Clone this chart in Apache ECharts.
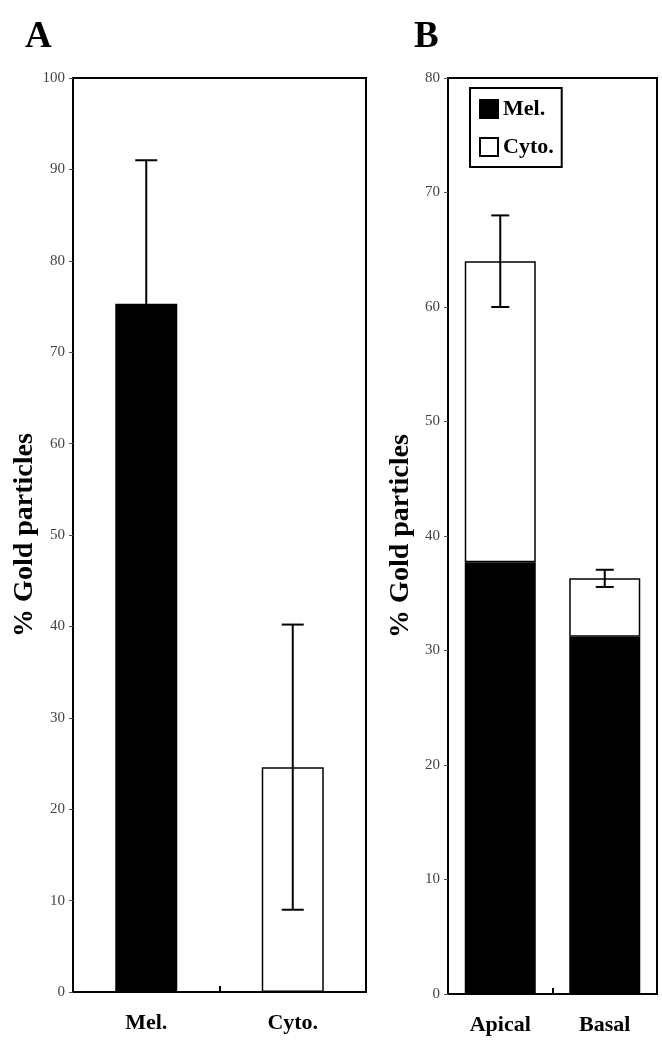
<!DOCTYPE html>
<html>
<head>
<meta charset="utf-8">
<script src="https://cdn.jsdelivr.net/npm/echarts@6/dist/echarts.min.js"></script>
<style>
html,body{margin:0;padding:0;background:#fff;}
#chart{width:662px;height:1050px;}
</style>
</head>
<body>
<div id="chart"></div>
<script>
// Panel A
const catsA = ['Mel.', 'Cyto.'];
const valuesA = [75.3, 24.6];
const errA = [15.7, 15.6];
const ticksA = { min: 0, max: 100, interval: 10 };

// Panel B
const catsB = ['Apical', 'Basal'];
const melB = [37.7, 31.2];
const cytoB = [26.3, 5.1];
const errB = [4.0, 0.75];
const ticksB = { min: 0, max: 80, interval: 10 };

const serif = '"Liberation Serif", "DejaVu Serif", serif';
const chart = echarts.init(document.getElementById('chart'));

const totalsB = melB.map((v, i) => v + cytoB[i]);

function errRender(capHalf) {
  return function (params, api) {
    const x = api.value(0);
    const m = api.value(1);
    const e = api.value(2);
    const top = api.coord([x, m + e]);
    const bot = api.coord([x, m - e]);
    const st = { stroke: '#000', lineWidth: 2 };
    return {
      type: 'group',
      children: [
        { type: 'line', shape: { x1: top[0], y1: top[1], x2: bot[0], y2: bot[1] }, style: st },
        { type: 'line', shape: { x1: top[0] - capHalf, y1: top[1], x2: top[0] + capHalf, y2: top[1] }, style: st },
        { type: 'line', shape: { x1: bot[0] - capHalf, y1: bot[1], x2: bot[0] + capHalf, y2: bot[1] }, style: st }
      ]
    };
  };
}

const yAxisCommon = {
  type: 'value',
  name: '% Gold particles',
  nameLocation: 'middle',
  nameRotate: 90,
  nameGap: 33,
  nameTextStyle: { fontFamily: serif, fontWeight: 'bold', fontSize: 28, color: '#000' },
  axisLine: { show: true, lineStyle: { color: '#000', width: 2 } },
  axisTick: { show: true, length: 4, lineStyle: { color: '#555', width: 1 } },
  axisLabel: { fontFamily: serif, fontSize: 15, color: '#444', margin: 8 },
  splitLine: { show: false }
};

const xAxisCommon = {
  type: 'category',
  axisLine: { show: true, lineStyle: { color: '#000', width: 2 } },
  axisTick: { show: true, inside: true, length: 6, lineStyle: { color: '#000', width: 2 } },
  axisLabel: { fontFamily: serif, fontWeight: 'bold', fontSize: 22, color: '#000', margin: 20 }
};

chart.setOption({
  animation: false,
  backgroundColor: '#fff',
  title: [
    { text: 'A', left: 20, top: 14, textStyle: { fontFamily: serif, fontWeight: 'bold', fontSize: 37, color: '#000' } },
    { text: 'B', left: 409, top: 14, textStyle: { fontFamily: serif, fontWeight: 'bold', fontSize: 37, color: '#000' } }
  ],
  legend: {
    data: ['Mel.', 'Cyto.'],
    orient: 'vertical',
    left: 470,
    top: 88,
    padding: [10, 8, 9, 9],
    itemGap: 16,
    itemWidth: 18,
    itemHeight: 18,
    backgroundColor: '#fff',
    borderColor: '#000',
    borderWidth: 2,
    icon: 'rect',
    textStyle: { fontFamily: serif, fontWeight: 'bold', fontSize: 22, color: '#000' }
  },
  grid: [
    { left: 73, top: 78, width: 293, height: 914, show: true, borderColor: '#000', borderWidth: 2, containLabel: false },
    { left: 448, top: 78, width: 209, height: 916, show: true, borderColor: '#000', borderWidth: 2, containLabel: false }
  ],
  xAxis: [
    Object.assign({}, xAxisCommon, { gridIndex: 0, data: catsA }),
    Object.assign({}, xAxisCommon, { gridIndex: 1, data: catsB })
  ],
  yAxis: [
    Object.assign({}, yAxisCommon, { gridIndex: 0, min: ticksA.min, max: ticksA.max, interval: ticksA.interval }),
    Object.assign({}, yAxisCommon, { gridIndex: 1, min: ticksB.min, max: ticksB.max, interval: ticksB.interval })
  ],
  series: [
    {
      type: 'bar', xAxisIndex: 0, yAxisIndex: 0, barWidth: 62,
      data: valuesA.map((v, i) => ({
        value: v,
        itemStyle: i === 0 ? { color: '#000', borderColor: '#000', borderWidth: 1.5 } : { color: '#fff', borderColor: '#000', borderWidth: 1.5 }
      }))
    },
    {
      type: 'custom', xAxisIndex: 0, yAxisIndex: 0, z: 5,
      renderItem: errRender(11),
      encode: { x: 0, y: 1 },
      data: valuesA.map((v, i) => [i, v, errA[i]])
    },
    {
      name: 'Mel.', type: 'bar', xAxisIndex: 1, yAxisIndex: 1, stack: 'b', barWidth: 71,
      itemStyle: { color: '#000', borderColor: '#000', borderWidth: 1.5 },
      data: melB
    },
    {
      name: 'Cyto.', type: 'bar', xAxisIndex: 1, yAxisIndex: 1, stack: 'b', barWidth: 71,
      itemStyle: { color: '#fff', borderColor: '#000', borderWidth: 1.5 },
      data: cytoB
    },
    {
      type: 'custom', xAxisIndex: 1, yAxisIndex: 1, z: 5,
      renderItem: errRender(9),
      encode: { x: 0, y: 1 },
      data: totalsB.map((v, i) => [i, v, errB[i]])
    }
  ]
});
</script>
</body>
</html>
